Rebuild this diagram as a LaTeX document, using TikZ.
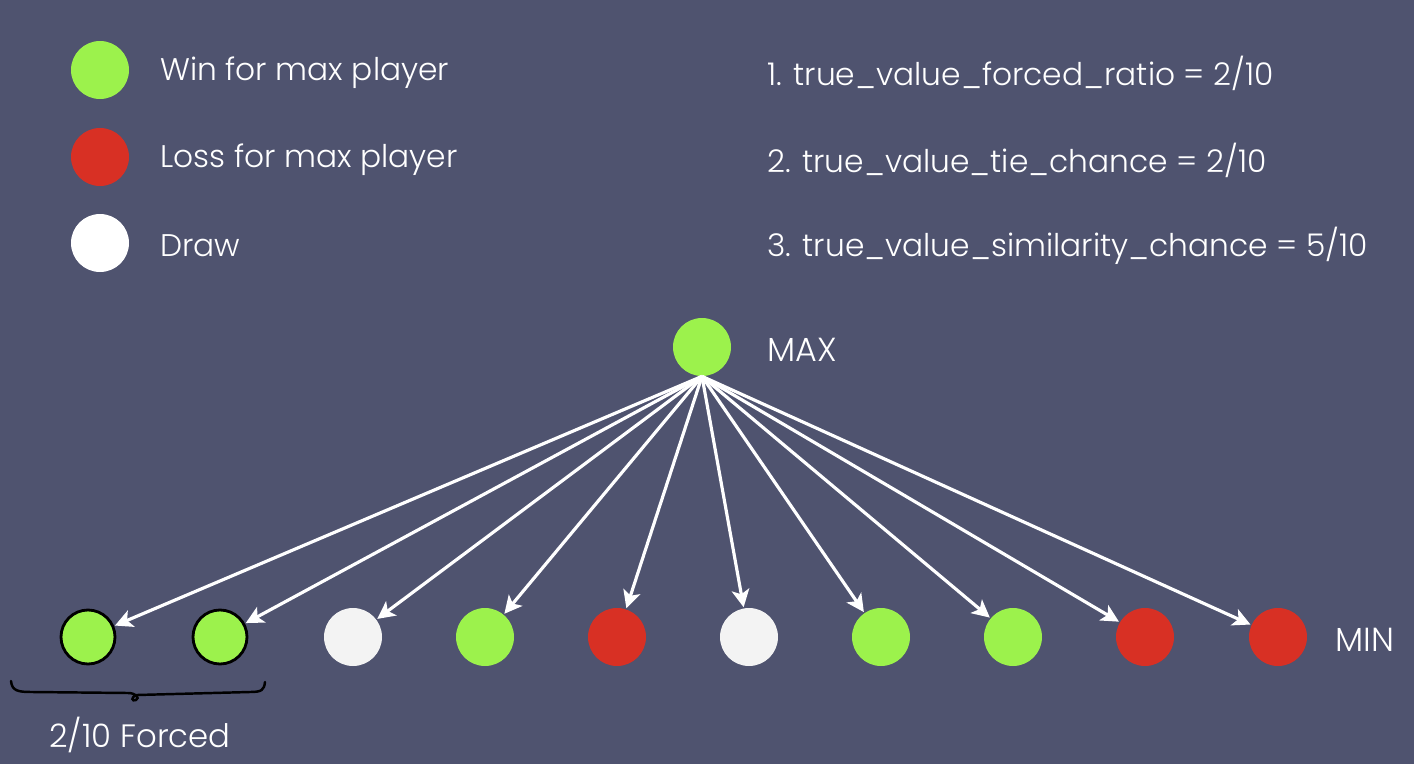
\documentclass[tikz,border=0pt]{standalone}
\usepackage{fontspec}
\setmainfont{Poppins}[UprightFont=* Light]
\usetikzlibrary{arrows.meta}
\definecolor{bg}{RGB}{79,83,111}
\definecolor{wingreen}{RGB}{156,242,76}
\definecolor{lossred}{RGB}{216,48,36}
\definecolor{drawwhite}{RGB}{243,243,243}
\newlength{\pxu}
\setlength{\pxu}{0.02cm}
\tikzset{
  dot/.style={circle,minimum size=58\pxu,inner sep=0pt,draw=none},
  win/.style={dot,fill=wingreen},
  loss/.style={dot,fill=lossred},
  tie/.style={dot,fill=drawwhite},
  legtie/.style={dot,fill=white},
  forced/.style={draw=black,line width=1.6pt,minimum size=54\pxu},
  lbl/.style={text=white,anchor=west,inner sep=0pt,yshift=-3\pxu,font=\fontsize{17.8}{20}\selectfont},
  big/.style={font=\fontsize{19}{22}\selectfont},
  edge/.style={draw=white,line width=1.8pt,-{Stealth[length=10pt,width=10pt,inset=2.5pt]},shorten >=0.5pt}
}
\begin{document}
\begin{tikzpicture}[x=0.02cm,y=-0.02cm]
\fill[bg] (0,0) rectangle (1414,764);
\useasboundingbox (0,0) rectangle (1414,764);
% legend
\node[win] (lw) at (100,70) {};
\node[loss] (ll) at (100,157) {};
\node[legtie] (ld) at (100,243) {};
\node[lbl] (tw) at (160,70) {Win for max player};
\node[lbl] (tl) at (160,157) {Loss for max player};
\node[lbl] (td) at (160,243) {Draw};
\node[lbl] (p1) at (767,70) {1. true\_value\_forced\_ratio = 2/10};
\node[lbl] (p2) at (767,157) {2. true\_value\_tie\_chance = 2/10};
\node[lbl] (p3) at (767,243) {3. true\_value\_similarity\_chance = 5/10};
% tree
\node[win] (max) at (702,347) {};
\node[lbl,big] (maxl) at (767,347) {MAX};
\node[win,forced] (n1) at (88,637) {};
\node[win,forced] (n2) at (220,637) {};
\node[tie] (n3) at (353,637) {};
\node[win] (n4) at (485,637) {};
\node[loss] (n5) at (617,637) {};
\node[tie] (n6) at (749,637) {};
\node[win] (n7) at (881,637) {};
\node[win] (n8) at (1013,637) {};
\node[loss] (n9) at (1145,637) {};
\node[loss] (n10) at (1278,637) {};
\node[lbl,big] (minl) at (1335,637) {MIN};
\foreach \i in {1,...,10} \draw[edge] (max.south) -- (n\i);
% brace
\draw[black,line width=1.4pt,line cap=round]
  (11,681) .. controls (12,691) and (18,692) .. (32,692)
  -- (128,693) .. controls (136,693) and (140,698) .. (136,700)
  .. controls (132,702) and (130,697) .. (137,695)
  -- (250,692) .. controls (262,692) and (264,690) .. (265,682);
\node[text=white,inner sep=0pt,font=\fontsize{18.4}{21}\selectfont] (fl) at (140,735) {2/10 Forced};
\end{tikzpicture}
\end{document}
